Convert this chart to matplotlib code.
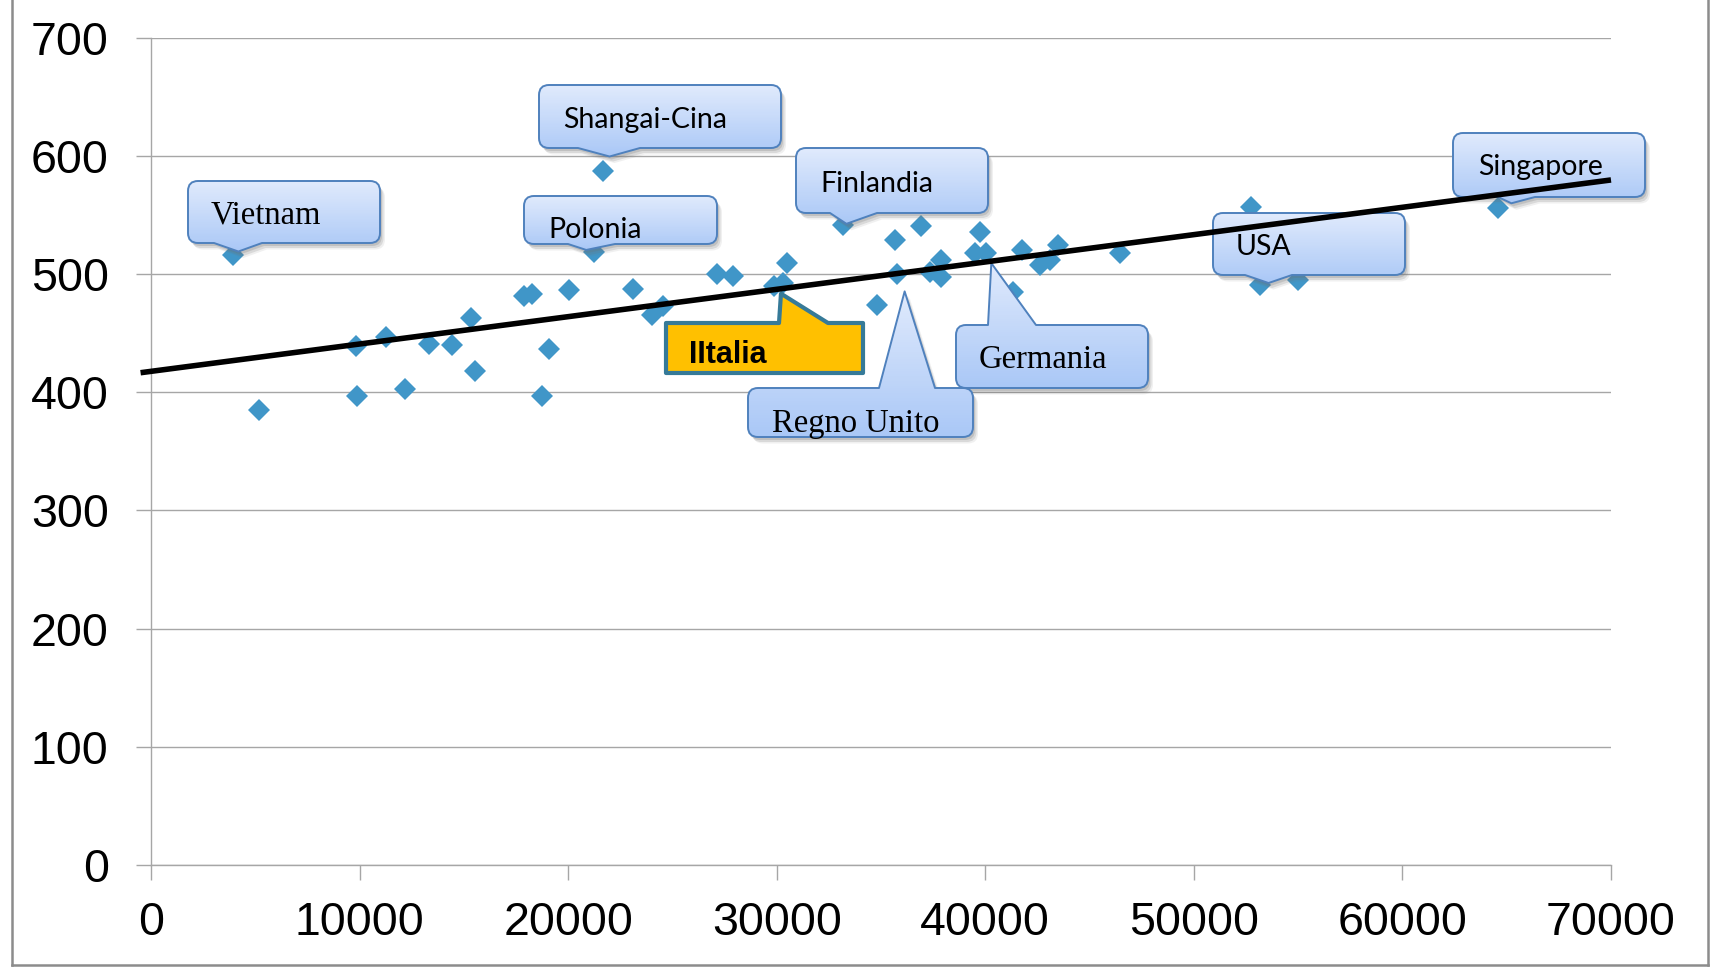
import numpy as np
import matplotlib
matplotlib.use("Agg")
import matplotlib.pyplot as plt
from matplotlib.path import Path
from matplotlib.patches import PathPatch, Rectangle
from matplotlib.transforms import Affine2D
from matplotlib.lines import Line2D
from matplotlib.colors import to_rgb

# GDP per capita (x) and PISA score (y) per country
gdp = [3950, 5200, 9850, 9900, 11250, 12200, 13350, 14450, 15350, 15550,
       17900, 18250, 18750, 19100, 20050, 21250, 21650, 23100, 24000, 24550,
       27150, 27900, 29850, 30300, 30500, 33200, 34800, 35650, 35750, 36900,
       37350, 37900, 37900, 39750, 39500, 40050, 41350, 41750, 42600, 43100,
       43500, 46450, 52750, 53150, 55000, 64600]
score = [516, 385, 439, 397, 447, 403, 441, 440, 463, 418,
         482, 483, 397, 437, 487, 519, 588, 488, 466, 473,
         500, 499, 490, 493, 510, 542, 474, 529, 500, 541,
         502, 512, 498, 536, 518, 518, 485, 521, 508, 512,
         525, 518, 557, 491, 495, 556]

# linear trend line end points
trend_x = [-500, 70000]
trend_y = [416.7, 580.0]

x_ticks = [0, 10000, 20000, 30000, 40000, 50000, 60000, 70000]
y_ticks = [0, 100, 200, 300, 400, 500, 600, 700]

# labelled countries and the index of their point
callout_labels = ["Vietnam", "Shangai-Cina", "Polonia", "Finlandia",
                  "Regno Unito", "Germania", "USA", "Singapore", "IItalia"]
callout_index = [0, 16, 15, 25, 28, 35, 43, 45, 23]

W, H = 1716, 967
fig = plt.figure(figsize=(W / 100, H / 100), dpi=100)
fig.patch.set_facecolor("white")

ax_left, ax_right, ax_bottom, ax_top = 151, 1611, 864.6, 38.3
ax = fig.add_axes([ax_left / W, 1 - ax_bottom / H,
                   (ax_right - ax_left) / W, (ax_bottom - ax_top) / H])
ax.set_xlim(0, 70000)
ax.set_ylim(0, 700)
ax.set_autoscale_on(False)

grid_col = "#A6A6A6"
ax.set_xticks(x_ticks)
ax.set_yticks(y_ticks)
ax.set_xticklabels([str(v) for v in x_ticks])
ax.set_yticklabels([str(v) for v in y_ticks])
for lab in ax.get_xticklabels() + ax.get_yticklabels():
    lab.set_fontfamily("Liberation Sans")
    lab.set_fontsize(33.5)
ax.tick_params(axis="both", direction="out", length=10.5, width=1.0,
               color=grid_col, labelcolor="black")
ax.tick_params(axis="x", pad=16)
ax.tick_params(axis="y", pad=20)
ax.yaxis.grid(True, color=grid_col, linewidth=1.0)
ax.set_axisbelow(True)
for side in ("top", "right"):
    ax.spines[side].set_visible(False)
for side in ("left", "bottom"):
    ax.spines[side].set_color(grid_col)
    ax.spines[side].set_linewidth(1.0)

# scatter points
ax.plot(gdp, score, linestyle="none", marker="D", markersize=11.6,
        markerfacecolor="#4096C8", markeredgecolor="#4096C8",
        markeredgewidth=0, zorder=2, clip_on=False)

# trend line above the callouts
ax.plot(trend_x, trend_y, color="black", linewidth=4.0, zorder=6,
        clip_on=False, solid_capstyle="butt")

# pixel coordinates measured from the top-left corner
px = Affine2D().scale(1, -1).translate(0, H)


def to_px(x, y):
    X, Y = ax.transData.transform((x, y))
    return X, H - Y


def callout_path(x0, y0, x1, y1, r, edge, b0, b1, tip):
    verts, codes = [], []

    def move(p):
        verts.append(p); codes.append(Path.MOVETO)

    def line(p):
        verts.append(p); codes.append(Path.LINETO)

    def curve(c, p):
        verts.extend([c, p]); codes.extend([Path.CURVE3, Path.CURVE3])

    move((x0 + r, y0))
    if edge == "top":
        line((b0, y0)); line(tip); line((b1, y0))
    line((x1 - r, y0))
    if r > 0:
        curve((x1, y0), (x1, y0 + r))
    line((x1, y1 - r))
    if r > 0:
        curve((x1, y1), (x1 - r, y1))
    if edge == "bottom":
        line((b1, y1)); line(tip); line((b0, y1))
    line((x0 + r, y1))
    if r > 0:
        curve((x0, y1), (x0, y1 - r))
    line((x0, y0 + r))
    if r > 0:
        curve((x0, y0), (x0 + r, y0))
    verts.append((x0 + r, y0)); codes.append(Path.CLOSEPOLY)
    return Path(verts, codes)


def draw_callout(box, edge, base, tip, radius, top_col, bottom_col,
                 edge_col, lw, shadow):
    x0, y0, x1, y1 = box
    path = callout_path(x0, y0, x1, y1, radius, edge, base[0], base[1], tip)
    if shadow:
        for dx, dy, a in [(2, 3, 0.22), (3.5, 5, 0.18), (5, 6.5, 0.10)]:
            sp = PathPatch(path, transform=Affine2D().translate(dx, dy) + px,
                           facecolor="#707070", edgecolor="none", alpha=a,
                           zorder=3.0, clip_on=False)
            ax.add_patch(sp)
    clip = PathPatch(path, transform=px, facecolor="none", edgecolor="none")
    ytop = min(y0, tip[1])
    ybot = max(y1, tip[1])
    n = 60
    c0 = np.array(to_rgb(top_col))
    c1 = np.array(to_rgb(bottom_col))
    hstep = (ybot - ytop) / n
    for i in range(n):
        t = (i + 0.5) / n
        col = c0 * (1 - t) + c1 * t
        rect = Rectangle((x0 - 2, ytop + i * hstep), (x1 - x0) + 4, hstep + 0.8,
                         transform=px, facecolor=col, edgecolor="none",
                         zorder=3.1)
        rect.set_clip_path(clip)
        ax.add_patch(rect)
    outline = PathPatch(path, transform=px, facecolor="none",
                        edgecolor=edge_col, linewidth=lw, zorder=3.3,
                        clip_on=False, joinstyle="round")
    ax.add_patch(outline)


# box (x0, y0, x1, y1), tail edge, tail base, tip offset from the point,
# text anchor (left, baseline), font style
layout = {
    "Vietnam":      ((188, 181, 380, 243), "bottom", (214, 262), (5, -4), (211, 224), "serif"),
    "Shangai-Cina": ((539, 85, 781, 148), "bottom", (578, 640), (7, -14), (563, 128), "sans"),
    "Polonia":      ((524, 196, 717, 244), "bottom", (568, 615), (-8, -2), (548, 238), "sans"),
    "Finlandia":    ((796, 148, 988, 213), "bottom", (830, 877), (3, -1), (820, 192), "sans"),
    "Regno Unito":  ((748, 388, 973, 437), "top", (879, 935), (8, 17), (772, 432), "serif"),
    "Germania":     ((956, 325, 1148, 388), "top", (988, 1036), (5, 10), (979, 368), "serif"),
    "USA":          ((1213, 213, 1405, 275), "bottom", (1245, 1292), (9, -2), (1236, 255), "sans"),
    "Singapore":    ((1453, 133, 1645, 197), "bottom", (1498, 1535), (13, -5), (1478, 175), "sans"),
    "IItalia":      ((666, 323, 863, 373), "top", (779, 828), (-2, 11), (689, 363), "bold"),
}

fonts = {
    "serif": dict(family="Liberation Serif", size=23.5),
    "sans": dict(family="Lato", size=20.5),
    "bold": dict(family="Liberation Sans", size=22, weight="bold"),
}

for label, idx in zip(callout_labels, callout_index):
    box, edge, base, off, tpos, style = layout[label]
    px_pt = to_px(gdp[idx], score[idx])
    tip = (px_pt[0] + off[0], px_pt[1] + off[1])
    if style == "bold":
        draw_callout(box, edge, base, tip, 0, "#FFC000", "#FFC000",
                     "#367A98", 3.0, shadow=False)
    else:
        draw_callout(box, edge, base, tip, 10, "#E0EAFC", "#A9C7F6",
                     "#4F81BD", 1.4, shadow=True)
    f = fonts[style]
    ax.text(tpos[0], tpos[1], label, transform=px, ha="left", va="baseline",
            fontfamily=f["family"], fontsize=f["size"],
            fontweight=f.get("weight", "normal"), color="black", zorder=3.5)

# outer frame of the chart area
frame_col = "#8C8C8C"
for xs, ys in [((12, 12), (0, 965)), ((1708, 1708), (0, 965)),
               ((12, 1708), (965, 965))]:
    fig.add_artist(Line2D(xs, ys, transform=px, color=frame_col,
                          linewidth=1.8, solid_capstyle="projecting"))

fig.savefig("out.png", dpi=100)
